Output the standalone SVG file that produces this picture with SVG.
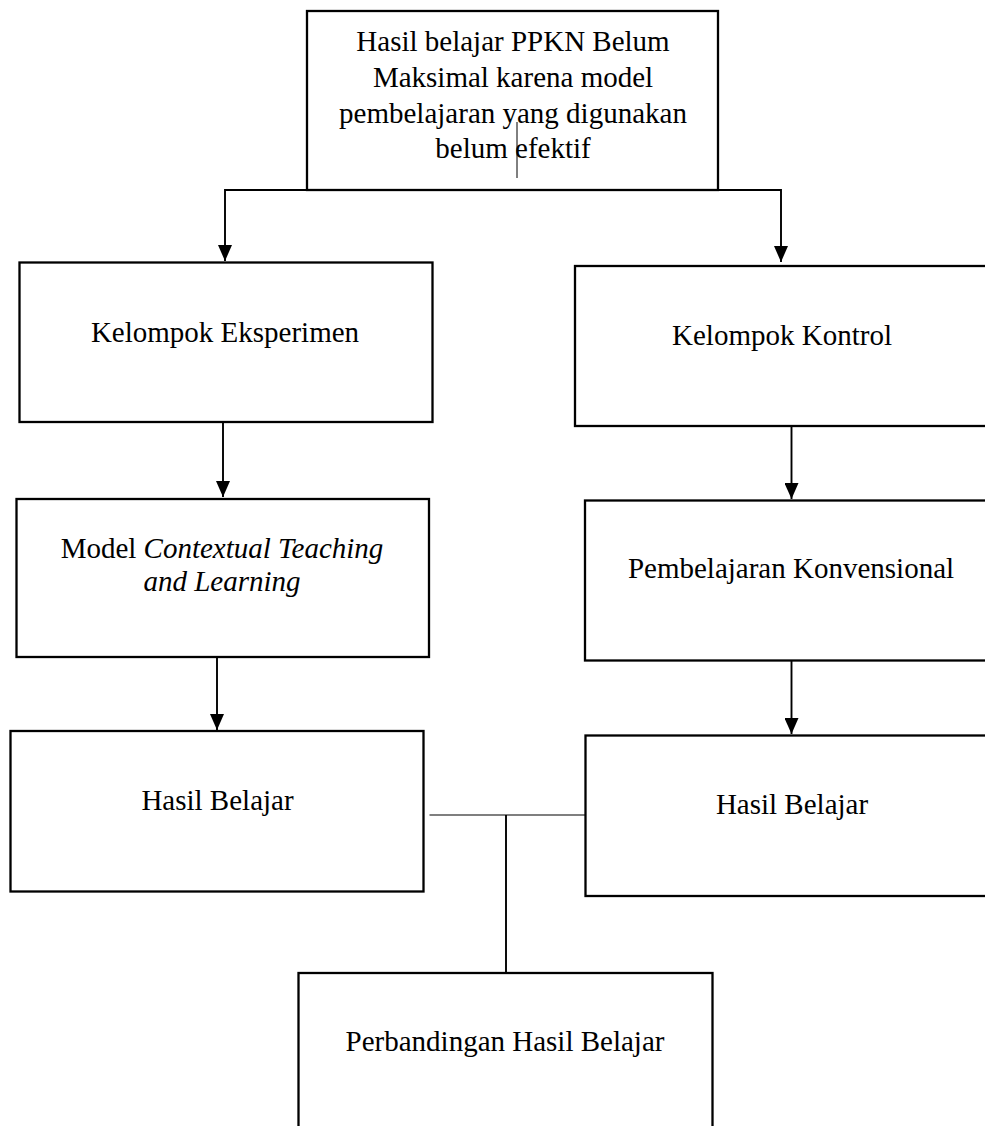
<svg xmlns="http://www.w3.org/2000/svg" width="985" height="1126" viewBox="0 0 985 1126">
<style>
.box{fill:#fff;stroke:#000;stroke-width:2.3}
.t{font-family:"Liberation Serif","Times New Roman",serif;font-size:29px;fill:#000;text-anchor:middle}
.c{fill:none;stroke:#000;stroke-width:1.9}
.thin{fill:none;stroke:#000;stroke-width:1.2}
</style>
<defs>
<marker id="ah" markerUnits="userSpaceOnUse" markerWidth="16" markerHeight="14" refX="16" refY="7" orient="auto">
<path d="M0,0 L16,7 L0,14 z" fill="#000"/>
</marker>
</defs>
<rect width="985" height="1126" fill="#fff"/>
<g id="connectors">
<path class="c" d="M307,190 H225 V261" marker-end="url(#ah)"/>
<path class="c" d="M718,190 H781 V262" marker-end="url(#ah)"/>
<path class="c" d="M223,423 V497" marker-end="url(#ah)"/>
<path class="c" d="M791.5,427 V499" marker-end="url(#ah)"/>
<path class="c" d="M217,658 V730" marker-end="url(#ah)"/>
<path class="c" d="M791.5,661 V734" marker-end="url(#ah)"/>
<path class="thin" d="M429.5,815 H585.5"/>
<path class="c" d="M506,815 V973"/>
</g>
<g id="node-top">
<rect class="box" x="307" y="11" width="411" height="179"/>
<text class="t" x="513" y="51">Hasil belajar PPKN Belum</text>
<text class="t" x="513" y="87">Maksimal karena model</text>
<text class="t" x="513" y="123">pembelajaran yang digunakan</text>
<text class="t" x="513" y="158">belum efektif</text>
<line x1="517" y1="122" x2="517" y2="178" stroke="#000" stroke-width="1"/>
</g>
<g id="node-eksperimen">
<rect class="box" x="19.5" y="262.5" width="413" height="159.5"/>
<text class="t" x="225" y="342">Kelompok Eksperimen</text>
</g>
<g id="node-kontrol">
<rect class="box" x="575" y="266" width="430" height="160"/>
<text class="t" x="782" y="345">Kelompok Kontrol</text>
</g>
<g id="node-ctl">
<rect class="box" x="16.5" y="499" width="412.5" height="158"/>
<text class="t" x="222" y="558">Model <tspan font-style="italic">Contextual Teaching</tspan></text>
<text class="t" x="222" y="591" font-style="italic">and Learning</text>
</g>
<g id="node-konvensional">
<rect class="box" x="585" y="500.5" width="420" height="160"/>
<text class="t" x="791" y="578">Pembelajaran Konvensional</text>
</g>
<g id="node-hasil-kiri">
<rect class="box" x="10.5" y="731" width="413" height="160.5"/>
<text class="t" x="217.5" y="810">Hasil Belajar</text>
</g>
<g id="node-hasil-kanan">
<rect class="box" x="585.5" y="735.5" width="420" height="160.5"/>
<text class="t" x="792" y="814">Hasil Belajar</text>
</g>
<g id="node-perbandingan">
<rect class="box" x="298.5" y="973" width="414" height="170"/>
<text class="t" x="505" y="1051">Perbandingan Hasil Belajar</text>
</g>
</svg>
